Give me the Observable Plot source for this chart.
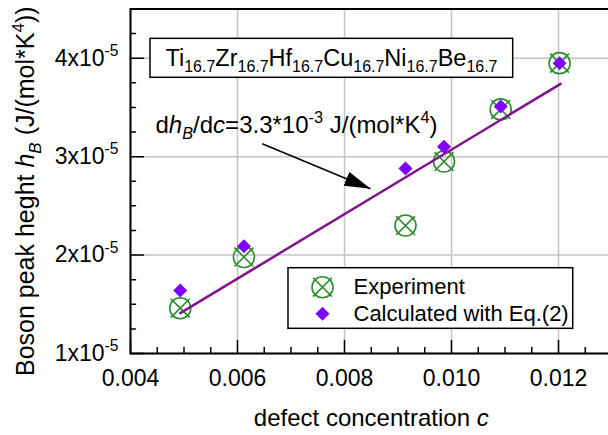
<!DOCTYPE html>
<html><head><meta charset="utf-8">
<script src="https://cdn.jsdelivr.net/npm/d3@7"></script>
<script src="https://cdn.jsdelivr.net/npm/@observablehq/plot@0.6"></script>
<style>
html,body{margin:0;padding:0;background:#fff;}
</style></head><body><div id="chart"></div>
<script>
// ---- data ----
const concentration = [0.00493, 0.00612, 0.00914, 0.00986, 0.01092, 0.01202];
const experiment = [1.46e-5, 1.98e-5, 2.30e-5, 2.95e-5, 3.48e-5, 3.95e-5];
const calculated = [1.64e-5, 2.09e-5, 2.88e-5, 3.10e-5, 3.51e-5, 3.95e-5];
const fitC = [0.00493, 0.01204];
const fitH = [1.41e-5, 3.74e-5];
const xMajor = [0.004, 0.006, 0.008, 0.010, 0.012];
const xMinor = [0.0045, 0.005, 0.0055, 0.0065, 0.007, 0.0075, 0.0085, 0.009, 0.0095, 0.0105, 0.011, 0.0115, 0.0125];
const yMajor = [1e-5, 2e-5, 3e-5, 4e-5];
const yMinor = [1.25e-5, 1.5e-5, 1.75e-5, 2.25e-5, 2.5e-5, 2.75e-5, 3.25e-5, 3.5e-5, 3.75e-5, 4.25e-5];
const yTickLabels = ["1x10^{-5}", "2x10^{-5}", "3x10^{-5}", "4x10^{-5}"];
const seriesNames = ["Experiment", "Calculated with Eq.(2)"];
const titleText = "Ti_{16.7}Zr_{16.7}Hf_{16.7}Cu_{16.7}Ni_{16.7}Be_{16.7}";
const slopeText = "d~h~_{~B~}/d~c~=3.3*10^{-3} J/(mol*K^{4})";
const xLabel = "defect concentration ~c~";
const yLabel = "Boson peak heght ~h~_{~B~} (J/(mol*K^{4}))";

// ---- annotation placement (data units) ----
const titleBox = {x1: 0.004374, x2: 0.011153, y1: 3.801e-5, y2: 4.197e-5, cx: 0.007757, cy: 4.001e-5};
const slopePos = {x: 0.004467, y: 3.32e-5};
const arrowPos = {x1: 0.006462, y1: 3.1305e-5, x2: 0.008486, y2: 2.6733e-5};
const legendBox = {x1: 0.006953, x2: 0.012275, y1: 1.2509e-5, y2: 1.8666e-5, sx: 0.007589, tx: 0.008168, ys: [1.6736e-5, 1.4033e-5]};

// ---- styles ----
const green = "#2a8c2a", violet = "#7f00ff", purple = "#80148c", gridColor = "#c4c4c4";
const font = "'Liberation Sans', Arial, sans-serif";

const idx = d3.range(concentration.length);

const symbolCross = {draw(ctx, size) {const r = Math.sqrt(size / Math.PI), a = r * 0.9;
  ctx.moveTo(-a, -a); ctx.lineTo(a, a); ctx.moveTo(a, -a); ctx.lineTo(-a, a);}};
const symbolDiam = {draw(ctx, size) {const r = Math.sqrt(size / Math.PI);
  ctx.moveTo(0, -r); ctx.lineTo(r, 0); ctx.lineTo(0, r); ctx.lineTo(-r, 0); ctx.closePath();}};
const tickShape = {draw(ctx, l) {ctx.moveTo(0, 0); ctx.lineTo(0, -l);}};

function filledArrow(color, context) {
  const ns = "http://www.w3.org/2000/svg";
  const doc = (context && context.document) || document;
  const m = doc.createElementNS(ns, "marker");
  m.setAttribute("viewBox", "0 -8 26 16");
  m.setAttribute("markerWidth", 26);
  m.setAttribute("markerHeight", 16);
  m.setAttribute("refX", 26);
  m.setAttribute("refY", 0);
  m.setAttribute("orient", "auto");
  m.setAttribute("markerUnits", "userSpaceOnUse");
  const p = doc.createElementNS(ns, "path");
  p.setAttribute("d", "M0,-7.5L26,0L0,7.5Z");
  p.setAttribute("fill", color);
  p.setAttribute("stroke", "none");
  m.appendChild(p);
  return m;
}

const W = 608, H = 435, mL = 130, mR = -3.5, mT = 8.5, mB = 82;
const xMin = 0.004, yMin = 1e-5;

const chart = Plot.plot({
  width: W, height: H,
  marginLeft: mL, marginRight: mR, marginTop: mT, marginBottom: mB,
  style: {fontFamily: font, fontSize: "23px", background: "white", color: "black", overflow: "visible"},
  x: {domain: [0.004, 0.013], range: [mL, W - mR]},
  y: {domain: [1e-5, 4.5e-5], range: [H - mB, mT]},
  marks: [
    Plot.gridX({ticks: xMajor, stroke: gridColor, strokeOpacity: 1, strokeWidth: 1.5}),
    Plot.gridY({ticks: yMajor, stroke: gridColor, strokeOpacity: 1, strokeWidth: 1.5}),
    // experiment markers
    Plot.dot(idx, {x: i => concentration[i], y: i => experiment[i], r: 10.5, stroke: green, strokeWidth: 1.6, fill: "none"}),
    Plot.dot(idx, {x: i => concentration[i], y: i => experiment[i], r: 10.5, symbol: symbolCross, stroke: green, strokeWidth: 1.6, fill: "none"}),
    // fit line
    Plot.line(d3.range(fitC.length), {x: i => fitC[i], y: i => fitH[i], stroke: purple, strokeWidth: 2.5}),
    // calculated
    Plot.dot(idx, {x: i => concentration[i], y: i => calculated[i], r: 7, symbol: symbolDiam, fill: violet, stroke: "none"}),
    // title box
    Plot.rect([titleBox], {x1: "x1", x2: "x2", y1: "y1", y2: "y2", fill: "white", stroke: "black", strokeWidth: 1.5}),
    Plot.text([titleText], {x: titleBox.cx, y: titleBox.cy, text: d => d, fontSize: 23.5, textAnchor: "middle", lineAnchor: "middle", fill: "black"}),
    // slope annotation
    Plot.text([slopeText], {x: slopePos.x, y: slopePos.y, text: d => d, fontSize: 24, textAnchor: "start", lineAnchor: "middle", fill: "black"}),
    Plot.link([arrowPos], {x1: "x1", y1: "y1", x2: "x2", y2: "y2", stroke: "black", strokeWidth: 1.5, markerEnd: filledArrow}),
    // legend
    Plot.rect([legendBox], {x1: "x1", x2: "x2", y1: "y1", y2: "y2", fill: "white", stroke: "black", strokeWidth: 1.5}),
    Plot.dot([0], {x: legendBox.sx, y: legendBox.ys[0], r: 10.5, stroke: green, strokeWidth: 1.6, fill: "none"}),
    Plot.dot([0], {x: legendBox.sx, y: legendBox.ys[0], r: 10.5, symbol: symbolCross, stroke: green, strokeWidth: 1.6, fill: "none"}),
    Plot.dot([0], {x: legendBox.sx, y: legendBox.ys[1], r: 7, symbol: symbolDiam, fill: violet, stroke: "none"}),
    Plot.text(seriesNames, {x: legendBox.tx, y: (d, i) => legendBox.ys[i], text: d => d, fontSize: 22, textAnchor: "start", lineAnchor: "middle", fill: "black"}),
    // axes
    Plot.frame({stroke: "black", strokeWidth: 2}),
    Plot.vector(xMajor, {x: d => d, y: yMin, length: 13, rotate: 0, anchor: "start", shape: tickShape, stroke: "black", strokeWidth: 1.5}),
    Plot.vector(xMinor, {x: d => d, y: yMin, length: 6, rotate: 0, anchor: "start", shape: tickShape, stroke: "black", strokeWidth: 1.5}),
    Plot.vector(yMajor, {x: xMin, y: d => d, length: 13, rotate: 90, anchor: "start", shape: tickShape, stroke: "black", strokeWidth: 1.5}),
    Plot.vector(yMinor, {x: xMin, y: d => d, length: 5, rotate: 90, anchor: "start", shape: tickShape, stroke: "black", strokeWidth: 1.5}),
    Plot.axisX({ticks: xMajor, tickSize: 0, tickPadding: 16, tickFormat: d => d.toFixed(3), fontSize: 23}),
    Plot.axisY({ticks: yMajor, tickSize: 0, tickPadding: 12, tickFormat: (d, i) => yTickLabels[yMajor.indexOf(d)], fontSize: 23}),
    // axis titles
    Plot.text([xLabel], {frameAnchor: "bottom", dy: 72, text: d => d, fontSize: 24, textAnchor: "middle", lineAnchor: "bottom", fill: "black"}),
    Plot.text([yLabel], {frameAnchor: "left", dx: -96.5, dy: 10, rotate: -90, text: d => d, fontSize: 25, textAnchor: "middle", lineAnchor: "bottom", fill: "black"})
  ]
});
document.getElementById("chart").appendChild(chart);

// ---- rich text: _{sub} ^{sup} ~italic~ ----
function richText(el) {
  const s = el.textContent;
  if (!/[_^~]/.test(s)) return;
  const fs = parseFloat(getComputedStyle(el).fontSize);
  const ns = "http://www.w3.org/2000/svg";
  const parts = s.split(/(_\{[^}]*\}|\^\{[^}]*\}|~[^~]*~)/g).filter(p => p !== "");
  el.textContent = "";
  let shift = 0;
  for (const p of parts) {
    let text = p, mode = "n";
    if (p.startsWith("_{")) {mode = "sub"; text = p.slice(2, -1);}
    else if (p.startsWith("^{")) {mode = "sup"; text = p.slice(2, -1);}
    else if (p.length > 1 && p.startsWith("~") && p.endsWith("~")) {mode = "it"; text = p.slice(1, -1);}
    let italic = mode === "it";
    if ((mode === "sub" || mode === "sup") && text.startsWith("~") && text.endsWith("~")) {italic = true; text = text.slice(1, -1);}
    const t = document.createElementNS(ns, "tspan");
    const target = mode === "sub" ? 0.26 * fs : mode === "sup" ? -0.42 * fs : 0;
    const dy = target - shift; shift = target;
    if (dy) t.setAttribute("dy", dy.toFixed(2));
    if (mode === "sub" || mode === "sup") t.setAttribute("font-size", (0.68 * fs).toFixed(2));
    if (italic) t.setAttribute("font-style", "italic");
    t.textContent = text;
    el.appendChild(t);
  }
}
chart.querySelectorAll("text").forEach(richText);
</script>
</body></html>
